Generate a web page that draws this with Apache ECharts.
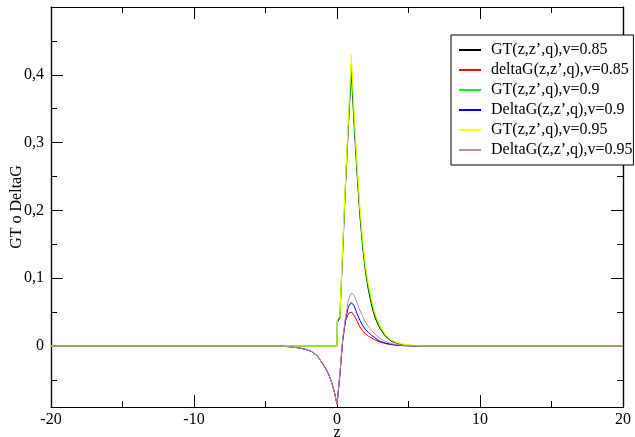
<!DOCTYPE html>
<html><head><meta charset="utf-8">
<script src="https://cdn.jsdelivr.net/npm/echarts@6/dist/echarts.min.js"></script>
<style>html,body{margin:0;padding:0;background:#fff}#c{width:635px;height:437px}</style>
</head><body><div id="c"></div>
<script>
const z = [-20, -4, -3.4, -3.0, -2.6, -2.2, -1.8, -1.4, -1.0, -0.8, -0.6, -0.4, -0.2, 0, 0.02, 0.2, 0.4, 0.6, 0.8, 1.0, 1.2, 1.4, 1.6, 1.8, 2.0, 2.2, 2.4, 2.6, 2.8, 3.0, 3.4, 3.8, 4.2, 4.6, 5.0, 5.5, 6, 7, 20];

const gtNeg = [0,0,0,0,0,0,0,0,0,0,0,0,0,0];
const dgNeg = [0, 0, -0.001, -0.002, -0.003, -0.005, -0.008, -0.014, -0.026, -0.033, -0.041, -0.052, -0.066, -0.086];

const gt085 = gtNeg.concat([0.035,0.042,0.14,0.24,0.325,0.405,0.325,0.255,0.193,0.145,0.108,0.082,0.062,0.046,0.035,0.026,0.014,0.007,0.004,0.002,0.001,0.0003,0,0,0]);
const dg085 = dgNeg.concat([-0.082,-0.043,0.009,0.037,0.048,0.050,0.045,0.037,0.028,0.022,0.018,0.0145,0.012,0.0095,0.0075,0.006,0.0035,0.002,0.001,0.0005,0.0002,0,0,0,0]);
const gt090 = gtNeg.concat([0.038,0.044,0.145,0.245,0.332,0.415,0.335,0.262,0.2,0.151,0.113,0.087,0.067,0.05,0.038,0.028,0.015,0.008,0.0045,0.0025,0.0012,0.0004,0,0,0]);
const dg090 = dgNeg.concat([-0.082,-0.043,0.009,0.040,0.058,0.064,0.059,0.048,0.038,0.030,0.024,0.020,0.016,0.013,0.0095,0.007,0.004,0.0025,0.0013,0.0006,0.0003,0,0,0,0]);
const gt095 = gtNeg.concat([0.04,0.045,0.15,0.25,0.34,0.43,0.345,0.27,0.206,0.157,0.118,0.092,0.072,0.053,0.041,0.031,0.017,0.009,0.005,0.003,0.0015,0.0005,0,0,0]);
const dg095 = dgNeg.concat([-0.082,-0.041,0.011,0.043,0.068,0.078,0.075,0.064,0.053,0.043,0.035,0.029,0.024,0.019,0.015,0.0113,0.0065,0.0035,0.002,0.001,0.0005,0.0002,0,0,0]);

const seriesNames = ['GT(z,z\u2019,q),v=0.85','deltaG(z,z\u2019,q),v=0.85','GT(z,z\u2019,q),v=0.9','DeltaG(z,z\u2019,q),v=0.9','GT(z,z\u2019,q),v=0.95','DeltaG(z,z\u2019,q),v=0.95'];
const seriesValues = [gt085, dg085, gt090, dg090, gt095, dg095];
const seriesColors = ['#000000','#ff0000','#00ff00','#0000ff','#ffff00','#bc8f8f'];

const yMajor = [0, 0.1, 0.2, 0.3, 0.4];
const yMinor = [-0.05, 0.05, 0.15, 0.25, 0.35, 0.45];

const FONT = 'Liberation Serif';
const FS = 16;
const chart = echarts.init(document.getElementById('c'), null, {renderer:'canvas'});

const axLine = {show:true, onZero:false, lineStyle:{color:'#000', width:1.2}};
function yAx(pos, ticks, len, labels){
  return {
    type:'value', position:pos, min:-0.09, max:0.5,
    axisLine: axLine,
    splitLine:{show:false},
    axisTick:{show:true, inside:true, length:len, customValues:ticks, lineStyle:{color:'#000', width:1}},
    axisLabel: labels ? {show:true, customValues:yMajor, margin:7, fontFamily:FONT, fontSize:FS, color:'#000',
      formatter:v=>String(Math.round(v*10)/10).replace('.',',')} : {show:false},
    name: labels ? 'GT o DeltaG' : '',
    nameLocation:'middle', nameGap:26, nameRotate:90, nameMoveOverlap:false,
    nameTextStyle:{fontFamily:FONT, fontSize:FS, color:'#000'}
  };
}
function xAx(pos, labels){
  return {
    type:'value', position:pos, min:-20, max:20, interval:10,
    axisLine: axLine,
    splitLine:{show:false},
    axisTick:{show:true, inside:true, length:12, lineStyle:{color:'#000', width:1}},
    minorTick:{show:true, splitNumber:2, length:6, lineStyle:{color:'#000', width:1}},
    minorSplitLine:{show:false},
    axisLabel: labels ? {show:true, margin:5, fontFamily:FONT, fontSize:FS, color:'#000'} : {show:false},
    name: labels ? 'z' : '',
    nameLocation:'middle', nameGap:18, nameMoveOverlap:false,
    nameTextStyle:{fontFamily:FONT, fontSize:FS, color:'#000'}
  };
}

const option = {
  backgroundColor:'#fff',
  animation:false,
  grid:{left:51, right:12, top:7, bottom:30, outerBoundsMode:'none', containLabel:false},
  xAxis:[xAx('bottom', true), xAx('top', false)],
  yAxis:[yAx('left', yMajor, 12, true), yAx('left', yMinor, 6, false), yAx('right', yMajor, 12, false), yAx('right', yMinor, 6, false)],
  legend:{
    orient:'vertical', left:451, top:35,
    backgroundColor:'#fff', borderColor:'#000', borderWidth:1, borderRadius:0,
    padding:[7,1,7,7], itemWidth:22, itemHeight:14, itemGap:4,
    itemStyle:{opacity:0},
    textStyle:{fontFamily:FONT, fontSize:FS, color:'#000', padding:[0,0,0,5]},
    data: seriesNames
  },
  series: seriesNames.map((n,i)=>({
    name:n, type:'line', xAxisIndex:0, yAxisIndex:0,
    data: z.map((zz,j)=>[zz, seriesValues[i][j]]),
    symbol:'none', showSymbol:false, smooth:false,
    lineStyle:{color:seriesColors[i], width:1},
    itemStyle:{color:seriesColors[i]}
  }))
};
chart.setOption(option);
</script></body></html>
